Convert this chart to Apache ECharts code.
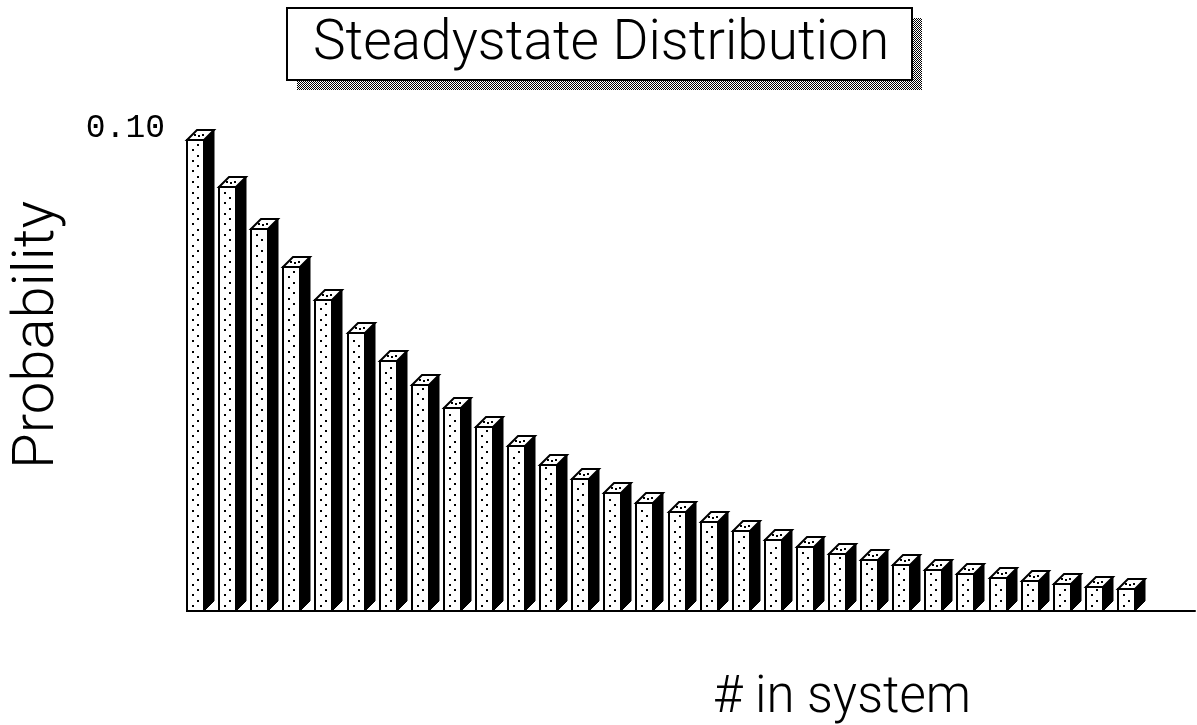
<!DOCTYPE html>
<html>
<head>
<meta charset="utf-8">
<script src="https://cdn.jsdelivr.net/npm/echarts@6/dist/echarts.min.js"></script>
<style>
html,body{margin:0;padding:0;background:#fff;}
#chart{width:1197px;height:725px;}
</style>
</head>
<body>
<div id="chart"></div>
<script>
// ---- data ----
const titleText = 'Steadystate Distribution';
const yAxisTitle = 'Probability';
const xAxisTitle = '# in system';
const categories = [0, 1, 2, 3, 4, 5, 6, 7, 8, 9, 10, 11, 12, 13, 14, 15, 16, 17, 18, 19, 20, 21, 22, 23, 24, 25, 26, 27, 28, 29];
const probability = [0.100, 0.090, 0.081, 0.073, 0.066, 0.059, 0.053, 0.048, 0.043, 0.039,
                     0.035, 0.031, 0.028, 0.025, 0.023, 0.021, 0.019, 0.017, 0.015, 0.0135,
                     0.012, 0.0108, 0.0097, 0.0088, 0.0079, 0.0071, 0.0064, 0.0058, 0.0052, 0.0047];
const yTickValues = [0.10];
const yTickLabels = ['0.10'];

// ---- patterns ----
function checker() {
  const c = document.createElement('canvas');
  c.width = 2; c.height = 2;
  const g = c.getContext('2d');
  g.fillStyle = '#fff'; g.fillRect(0, 0, 2, 2);
  g.fillStyle = '#000'; g.fillRect(0, 0, 1, 1); g.fillRect(1, 1, 1, 1);
  return c;
}

const chart = echarts.init(document.getElementById('chart'), null, {renderer: 'canvas'});
const FACE_W = 17, DEPTH = 10;
const FONT = 'Roboto';
const seriesData = categories.map((c, i) => [c, probability[i]]);

function renderBar(params, api) {
  const top = api.coord([api.value(0), api.value(1)]);
  const base = api.coord([api.value(0), 0]);
  const x = Math.round(top[0]), y = Math.round(top[1]), b = Math.round(base[1]);
  const W = FACE_W, D = DEPTH;
  const ch = [];
  ch.push({type: 'polygon', shape: {points: [[x + W, y], [x + W + D, y - D], [x + W + D, b - D], [x + W, b]]},
           style: {fill: '#000', stroke: '#000', lineWidth: 1}});
  ch.push({type: 'rect', shape: {x: x, y: y, width: W, height: b - y},
           style: {fill: '#fff', stroke: '#000', lineWidth: 2}});
  let k = 0;
  for (let yy = b - 5; yy > y + 3; yy -= 5.3, k++) {
    ch.push({type: 'rect', shape: {x: x + (k % 2 ? 11 : 6) - 1, y: Math.round(yy) - 1, width: 2, height: 2},
             style: {fill: '#000'}});
  }
  ch.push({type: 'polygon', shape: {points: [[x, y], [x + D, y - D], [x + W + D, y - D], [x + W, y]]},
           style: {fill: '#fff', stroke: '#000', lineWidth: 2}});
  for (let j = 0; j < 3; j++) {
    ch.push({type: 'rect', shape: {x: x + 7 + j * 4, y: y - 6 + (j % 2), width: 2, height: 2}, style: {fill: '#000'}});
  }
  return {type: 'group', children: ch};
}

const option = {
  backgroundColor: '#fff',
  animation: false,
  grid: {left: 187, right: 2, top: 140, bottom: 114, containLabel: false},
  xAxis: {
    type: 'value', min: 0, max: 31.4,
    axisLine: {show: true, onZero: false, lineStyle: {color: '#000', width: 2}},
    axisTick: {show: false}, axisLabel: {show: false}, splitLine: {show: false}
  },
  yAxis: {
    type: 'value', min: 0, max: 0.1, interval: 0.1,
    axisLine: {show: false}, axisTick: {show: false}, splitLine: {show: false},
    axisLabel: {
      showMinLabel: false,
      formatter: v => { const i = yTickValues.findIndex(t => Math.abs(t - v) < 1e-9); return i >= 0 ? yTickLabels[i] : ''; },
      fontFamily: 'Liberation Mono', fontSize: 33, color: '#000', margin: 22,
      verticalAlign: 'bottom', lineHeight: 23
    }
  },
  series: [{
    type: 'custom',
    renderItem: renderBar,
    data: seriesData,
    clip: false,
    z: 3
  }],
  graphic: [
    {type: 'rect', shape: {x: 297, y: 18, width: 625, height: 72}, style: {fill: {image: checker(), repeat: 'repeat'}}, z: 10},
    {type: 'rect', shape: {x: 287, y: 8, width: 625, height: 72}, style: {fill: '#fff', stroke: '#000', lineWidth: 2}, z: 11},
    {type: 'text', x: 601, y: 45, z: 12,
     style: {text: titleText, fontFamily: FONT, fontWeight: 300, fontSize: 55, fill: '#000', align: 'center', verticalAlign: 'middle'}},
    {type: 'text', x: 38, y: 335, rotation: Math.PI / 2, z: 12,
     style: {text: yAxisTitle, fontFamily: FONT, fontWeight: 300, fontSize: 58, fill: '#000', align: 'center', verticalAlign: 'middle'}},
    {type: 'text', x: 842, y: 699, z: 12,
     style: {text: xAxisTitle, fontFamily: FONT, fontWeight: 300, fontSize: 51, fill: '#000', align: 'center', verticalAlign: 'middle'}}
  ]
};
chart.setOption(option);
</script>
</body>
</html>
